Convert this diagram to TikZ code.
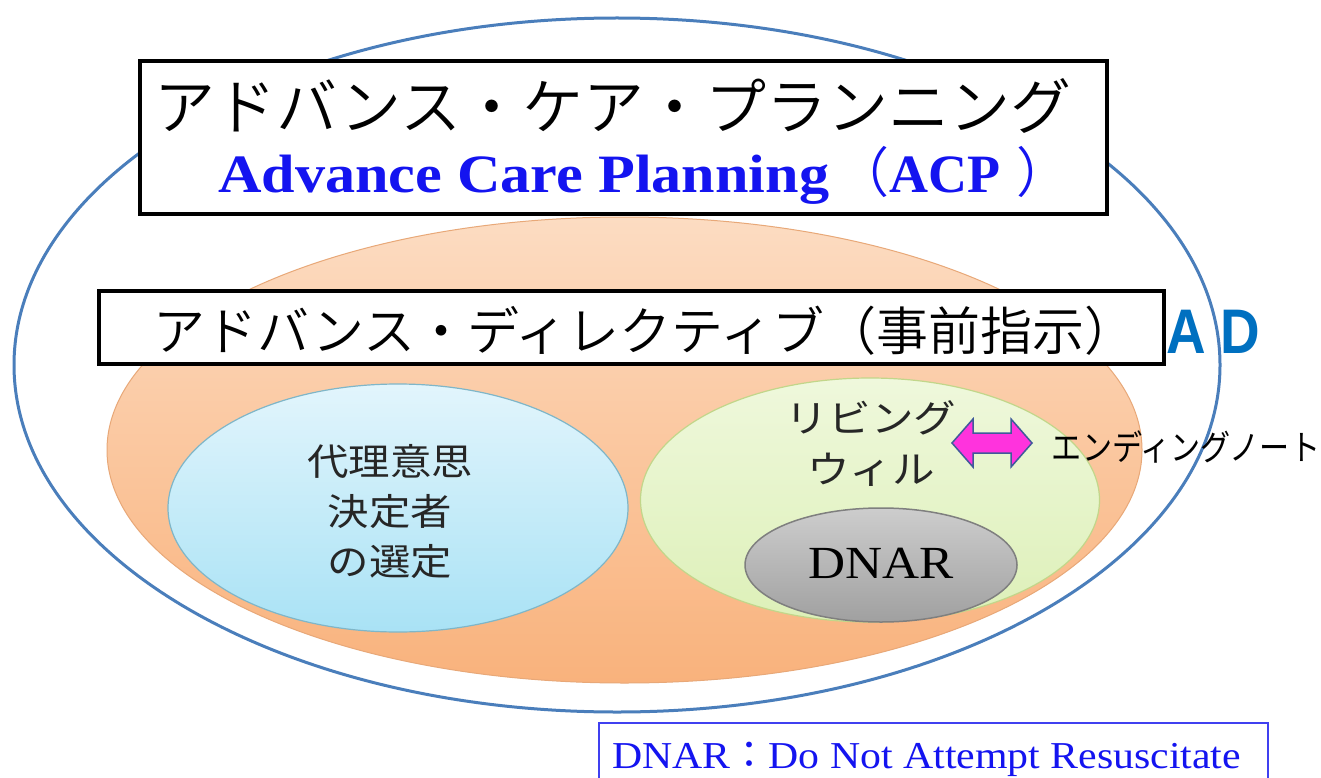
\documentclass[tikz,border=0pt]{standalone}
\usepackage{fontspec}
\usetikzlibrary{shapes.geometric}
\newfontfamily\jp{Noto Sans CJK JP}
\newfontfamily\jplight[UprightFont={* DemiLight}]{Noto Sans CJK JP}
\newfontfamily\jpwide[FakeStretch=1.12]{Noto Sans CJK JP}
\newfontfamily\jpnarrow[FakeStretch=0.86]{Noto Sans CJK JP}
\newfontfamily\tnr{Liberation Serif}
\newfontfamily\tnrwide[FakeStretch=1.115]{Liberation Serif}
\newfontfamily\tnrleg[FakeStretch=1.1]{Liberation Serif}
\newfontfamily\arialn[FakeStretch=0.87]{Liberation Sans}
\definecolor{outerblue}{HTML}{4A7EBB}
\definecolor{orTop}{HTML}{FCDCC2}
\definecolor{orBot}{HTML}{F9B27C}
\definecolor{orLine}{HTML}{E8A878}
\definecolor{bluTop}{HTML}{E2F5FC}
\definecolor{bluBot}{HTML}{A9E2F5}
\definecolor{bluLine}{HTML}{7FB6C8}
\definecolor{grTop}{HTML}{EFF8DC}
\definecolor{grBot}{HTML}{DDF0B8}
\definecolor{grLine}{HTML}{C2D68A}
\definecolor{gyTop}{HTML}{CDCDCD}
\definecolor{gyBot}{HTML}{A0A0A0}
\definecolor{gyLine}{HTML}{7F7F7F}
\definecolor{adblue}{HTML}{0070C0}
\definecolor{txtblue}{HTML}{1414F0}
\definecolor{legline}{HTML}{4040F0}
\definecolor{arrfill}{HTML}{FF33DD}
\definecolor{arrline}{HTML}{3F5A9A}
\definecolor{txtdark}{HTML}{262626}
\tikzset{
  ell/.style={ellipse, inner sep=0pt},
  blackbox/.style={draw=black, line width=4pt, fill=white, inner sep=0pt},
  plain/.style={inner sep=0pt},
}
\begin{document}
\begin{tikzpicture}[x=1pt,y=-1pt]
\useasboundingbox (0,0) rectangle (1321,778);
\clip (0,0) rectangle (1321,778);
\fill[white] (0,0) rectangle (1321,778);
% ellipses
\node[ell, draw=outerblue, line width=3pt, fill=white, minimum width=1206pt, minimum height=694pt] (outer) at (617,365) {};
\node[ell, draw=orLine, line width=1pt, top color=orTop, bottom color=orBot, minimum width=1035pt, minimum height=466pt] (orange) at (624.5,450) {};
\node[ell, draw=bluLine, line width=1.2pt, top color=bluTop, bottom color=bluBot, minimum width=460pt, minimum height=248pt] (proxyell) at (398,508) {};
\node[ell, draw=grLine, line width=1.2pt, top color=grTop, bottom color=grBot, minimum width=459pt, minimum height=244pt] (lwell) at (870,500) {};
\node[ell, draw=gyLine, line width=1.5pt, top color=gyTop, bottom color=gyBot, minimum width=272pt, minimum height=114pt] (dnarell) at (881,565) {};
% boxes
\node[blackbox, minimum width=967pt, minimum height=153pt] (acpbox) at (623.5,137.5) {};
\node[blackbox, minimum width=1065pt, minimum height=73pt] (adbox) at (631.5,327.5) {};
% texts
\node[plain, font={\jplight\fontsize{61}{61}\selectfont}] (acpjp) at (613,106) {アドバンス・ケア・プランニング};
\node[plain, anchor=base west, text=txtblue] (acpen) at (218,192) {\fontsize{54}{54}\selectfont{\tnrwide\bfseries Advance Care Planning}\hspace{6pt}{\jplight （}{\tnr\bfseries ACP}\hspace{16pt}{\jplight ）}};
\node[plain, font={\jplight\fontsize{52}{52}\selectfont}] (adjp) at (645,331) {アドバンス・ディレクティブ（事前指示）};
\node[plain, anchor=base west, text=adblue, font={\arialn\bfseries\fontsize{63}{63}\selectfont}] (adlbl) at (1166,353) {A D};
\node[plain, align=center, text=txtdark, font={\jpwide\fontsize{37}{50}\selectfont}] (proxy) at (390,512) {代理意思\\決定者\\の選定};
\node[plain, align=center, text=txtdark, font={\jpwide\fontsize{38}{51}\selectfont}] (lw) at (871,444) {リビング\\ウィル};
\node[plain, anchor=base, text=black, font={\tnrwide\fontsize{46}{46}\selectfont}] (dnar) at (881,578) {DNAR};
\node[plain, font={\jpnarrow\fontsize{35}{35}\selectfont}] (ending) at (1186,447) {エンディングノート};
% double arrow
\draw[fill=arrfill, draw=arrline, line width=1.5pt, line join=miter]
  (952,443) -- (973,419) -- (973,433) -- (1011,433) -- (1011,419) -- (1032,443)
  -- (1011,467) -- (1011,453) -- (973,453) -- (973,467) -- cycle;
% legend
\node[draw=legline, line width=2pt, fill=white, minimum width=669pt, minimum height=90pt, anchor=north west, inner sep=0pt] (legbox) at (598,722) {};
\node[plain, anchor=base west, text=txtblue, font={\tnrleg\fontsize{38}{38}\selectfont}] (legtxt) at (612,768) {DNAR{\jp ：}Do Not Attempt Resuscitate};
\end{tikzpicture}
\end{document}
